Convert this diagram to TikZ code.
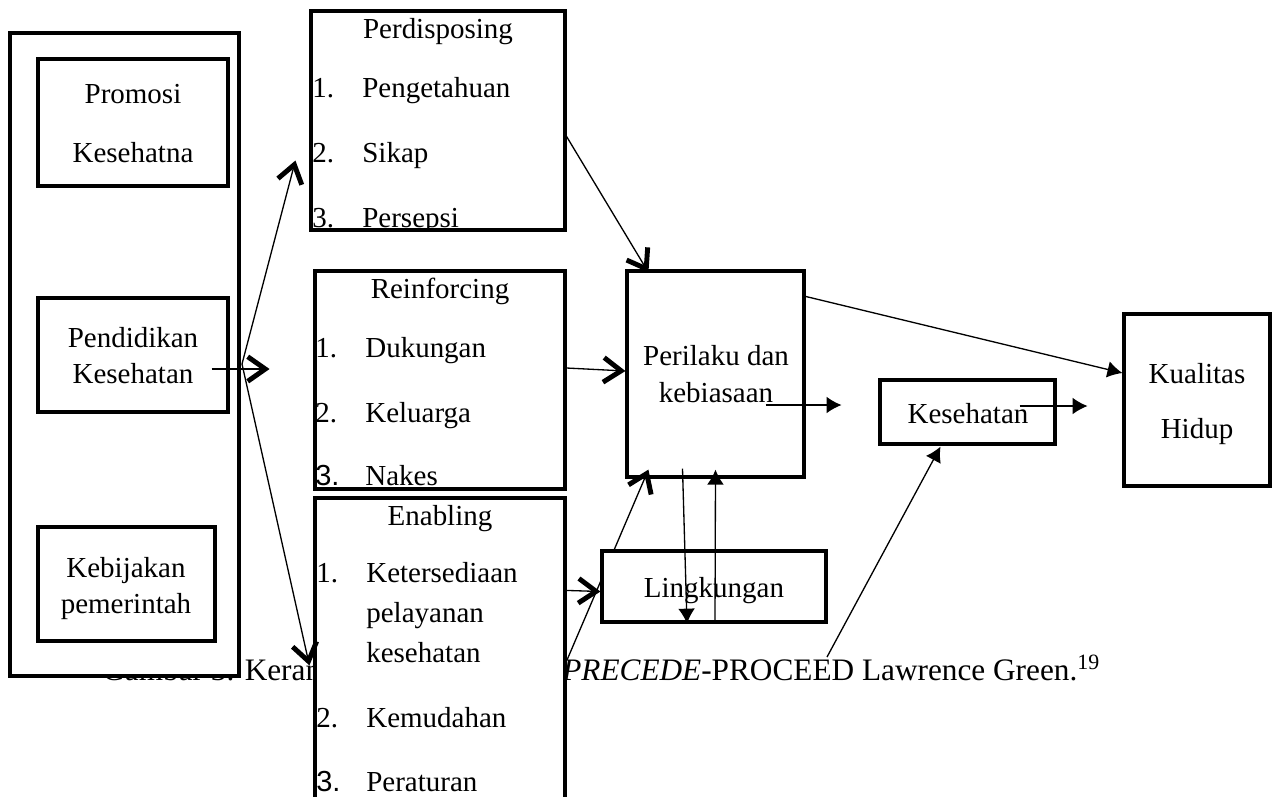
\documentclass[tikz,border=0pt]{standalone}
\usepackage{fontspec}
\setmainfont{Liberation Serif}
\newfontfamily\numfont{Liberation Sans}
\usetikzlibrary{arrows.meta, fit, calc}
\newcommand{\numlab}[1]{\makebox[1cm][l]{#1}}

\begin{document}
\begin{tikzpicture}[
  x=0.02cm, y=-0.02cm,
  font=\fontsize{16.5}{20}\selectfont,
  bx/.style={draw, line width=1.8pt, fill=white, inner sep=0pt},
  txt/.style={inner sep=0pt, anchor=base},
  itm/.style={inner sep=0pt, anchor=base west},
  captxt/.style={itm, font=\fontsize{17.8}{21}\selectfont},
  conn/.style={line width=0.75pt},
  chev/.style={conn, -{Straight Barb[length=10pt, width=14pt, line width=2.8pt]}},
  tri/.style={conn, -{Latex[length=8.5pt, width=9.5pt]}},
]
  \useasboundingbox (0,0) rectangle (1274,796);

  % caption, partly covered by the boxes
  \node[captxt] (capa) at (102,680) {Gambar 3. Keran};
  \node[captxt] (capb) at (562,680)
    {\textit{PRECEDE}-PROCEED Lawrence Green.\textsuperscript{19}};

  \node[bx, fit={(10,33) (239,676)}] (outer) {};
  \node[bx, fit={(38,59) (228,186)}] (promosi) {};
  \node[bx, fit={(38,298) (228,412)}] (pendidikan) {};
  \node[bx, fit={(38,527) (215,641)}] (kebijakan) {};
  \node[bx, fit={(311,11) (565,230)}] (predis) {};
  \node[bx, fit={(315,271) (565,489)}] (reinf) {};
  \node[bx, fit={(315,498) (565,812)}] (enab) {};
  \node[bx, fit={(627,271) (804,477)}] (perilaku) {};
  \node[bx, fit={(880,380) (1055,444)}] (kesehatan) {};
  \node[bx, fit={(1124,314) (1270,486)}] (kualitas) {};

  \coordinate (ebot) at (567,660);
  \draw[chev] (ebot) -- ($(perilaku.south west)+(23,-9)$);
  \node[bx, fit={(602,551) (826,622)}] (lingk) {};

  % texts
  \node[txt] (promA) at (133,103) {Promosi};
  \node[txt] (promB) at (133,162) {Kesehatna};
  \node[txt] (pendA) at (133,347) {Pendidikan};
  \node[txt] (pendB) at (133,383) {Kesehatan};
  \node[txt] (kebA) at (126,577) {Kebijakan};
  \node[txt] (kebB) at (126,613) {pemerintah};

  \begin{scope}
    \clip (predis.south west) rectangle (predis.north east);
    \node[txt] (predisT) at (438,38) {Perdisposing};
    \node[itm] (predis1) at (312,97) {\numlab{1.}Pengetahuan};
    \node[itm] (predis2) at (312,162) {\numlab{2.}Sikap};
    \node[itm] (predis3) at (312,227) {\numlab{3.}Persepsi};
  \end{scope}

  \node[txt] (reinfT) at (440,298) {Reinforcing};
  \node[itm] (reinf1) at (315,357) {\numlab{1.}Dukungan};
  \node[itm] (reinf2) at (315,422) {\numlab{2.}Keluarga};
  \node[itm] (reinf3) at (315,485) {\numlab{\numfont 3.}Nakes};

  \node[txt] (enabT) at (440,525) {Enabling};
  \node[itm] (enab1) at (316,582) {\numlab{1.}Ketersediaan};
  \node[itm] (enab1b) at (366,622) {pelayanan};
  \node[itm] (enab1c) at (366,662) {kesehatan};
  \node[itm] (enab2) at (316,727) {\numlab{2.}Kemudahan};
  \node[itm] (enab3) at (316,791) {\numlab{\numfont 3.}Peraturan};

  \node[txt] (perA) at (716,365) {Perilaku dan};
  \node[txt] (perB) at (716,402) {kebiasaan};
  \node[txt] (lingT) at (714,597) {Lingkungan};
  \node[txt] (kesT) at (968,423) {Kesehatan};
  \node[txt] (kuaA) at (1197,383) {Kualitas};
  \node[txt] (kuaB) at (1197,438) {Hidup};

  % from Pendidikan to the three factors
  \coordinate (fork) at (242,364);
  \draw[chev] ($(pendidikan.east)+(-18,14)$) -- ++(58,0);
  \draw[chev] (fork) -- ($(predis.west)+(-14,40)$);
  \draw[chev] (fork) -- ($(enab.north west)+(-4,169)$);

  \draw[chev] ($(predis.east)+(0,16)$) -- ($(perilaku.north west)+(23,3)$);
  \draw[chev] ($(reinf.east)+(0,-12)$) -- ($(perilaku.west)+(0,-3)$);
  \draw[chev] ($(enab.north east)+(0,94)$) -- ($(lingk.west)+(0,5)$);

  \draw[tri] ($(perilaku.center)+(50,31)$) -- ++(76,0);
  \draw[tri] ($(kesehatan.center)+(52,-6)$) -- ++(68,0);
  \draw[tri] ($(perilaku.north east)+(0,27)$) -- ($(kualitas.west)+(0,-27)$);
  \draw[tri] ($(lingk.south)+(1,0)$) -- ($(perilaku.south)+(0,-9)$);
  \draw[tri] ($(perilaku.south)+(-33,-10)$) -- ($(lingk.south)+(-27,0)$);
  \coordinate (lbot) at (827,657);
  \draw[tri] (lbot) -- ($(kesehatan.south)+(-27,1)$);
\end{tikzpicture}
\end{document}
